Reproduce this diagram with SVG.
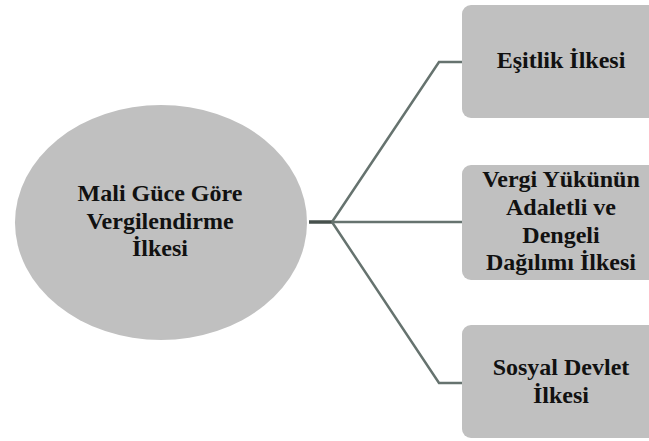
<svg xmlns="http://www.w3.org/2000/svg" width="649" height="441" viewBox="0 0 649 441">
  <style>
    .shape { fill: #c0c0c0; }
    text { font-family: 'Liberation Serif', 'Times New Roman', serif; font-size: 24px; font-weight: 700; fill: #111111; text-anchor: middle; }
    .link { fill: none; stroke: #66736f; stroke-width: 2.5; }
    .stem { fill: none; stroke: #46504c; stroke-width: 3.5; }
  </style>
  <rect width="649" height="441" fill="#ffffff"/>

  <!-- branching connectors: stem from the ellipse, then three arms to the boxes -->
  <g id="connectors">
    <line class="stem" x1="309" y1="222" x2="332" y2="222"/>
    <polyline class="link" points="332,222 439,62 462,62"/>
    <line class="link" x1="332" y1="222" x2="462" y2="222"/>
    <polyline class="link" points="332,222 439,383 462,383"/>
  </g>

  <g id="node-mali-guce">
    <ellipse class="shape" cx="161" cy="222.5" rx="146" ry="117.5"/>
    <text x="160" y="201">Mali Güce Göre</text>
    <text x="160" y="228.5">Vergilendirme</text>
    <text x="160" y="256">İlkesi</text>
  </g>

  <g id="node-esitlik">
    <rect class="shape" x="462" y="5" width="200" height="113" rx="9"/>
    <text x="561" y="68">Eşitlik İlkesi</text>
  </g>

  <g id="node-vergi-yuku">
    <rect class="shape" x="462" y="165" width="200" height="115" rx="9"/>
    <text x="561" y="187">Vergi Yükünün</text>
    <text x="561" y="215">Adaletli ve</text>
    <text x="561" y="242.5">Dengeli</text>
    <text x="561" y="270">Dağılımı İlkesi</text>
  </g>

  <g id="node-sosyal-devlet">
    <rect class="shape" x="462" y="325" width="200" height="113" rx="9"/>
    <text x="561" y="375">Sosyal Devlet</text>
    <text x="561" y="403">İlkesi</text>
  </g>
</svg>
